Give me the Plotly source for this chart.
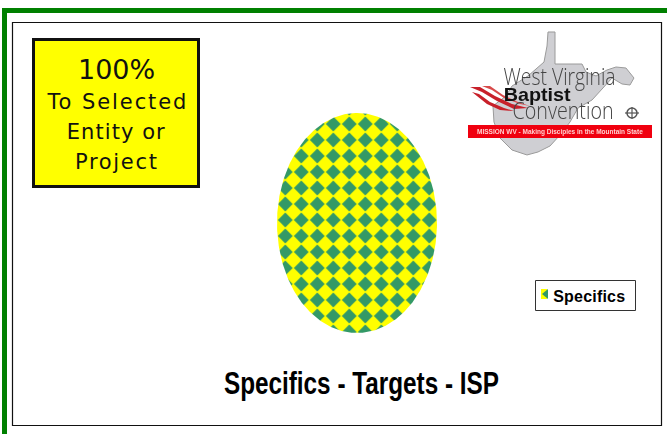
import json
import numpy as np
import plotly.graph_objects as go

W, H = 667, 434

# Chart content
categories = ["Specifics"]
values = [100]
title_text = "Specifics - Targets - ISP"
callout_lines = ["100%", "To Selected", "Entity or", "Project"]
callout_sizes = [27, 21, 21, 21]
callout_rows = [69, 102, 132, 162]
callout_widths = [77, 139, 98, 82]

# Logo content
logo_lines = ["West Virginia", "Baptist", "Convention"]
logo_tagline = "MISSION WV - Making Disciples in the Mountain State"

GREEN = "#008000"
YELLOW = "#FFFF00"
TEAL = "#339966"


def px(x):
    return x / W


def py(y):
    return 1 - y / H


def poly(points):
    return "M" + " L".join(f"{px(x):.4f},{py(y):.4f}" for x, y in points) + " Z"


def rect(x0, y0, x1, y1, **kw):
    return dict(type="rect", xref="paper", yref="paper", x0=px(x0), x1=px(x1),
                y0=py(y1), y1=py(y0), **kw)


# The single slice sweeps its share of the full turn; the axes stretch it to an oval.
total = sum(values)
theta = np.linspace(0, 2 * np.pi * values[0] / total, 361)

fig = go.Figure()
fig.add_trace(go.Scatter(
    x=np.sin(theta), y=np.cos(theta), mode="lines", name=categories[0],
    fill="toself", fillcolor=YELLOW, line=dict(width=0, color=YELLOW),
    fillpattern=dict(shape="x", size=16, solidity=0.6, fgcolor=YELLOW,
                     bgcolor=TEAL, fillmode="replace"),
    hoverinfo="skip", showlegend=False,
))

state_outline = [
    (548, 32), (555, 32), (555, 64), (582, 64), (586, 72), (596, 76), (607, 70),
    (616, 67), (626, 68), (634, 78), (630, 85), (622, 84), (612, 78), (603, 88),
    (592, 100), (578, 108), (570, 122), (560, 135), (550, 146), (538, 152),
    (527, 155), (512, 150), (500, 138), (494, 122), (493, 106), (506, 96),
    (512, 86), (528, 76), (544, 62), (547, 46),
]
streak_a = [(470, 87), (480, 87), (495, 96), (512, 104), (528, 108), (514, 109), (497, 101), (482, 92)]
streak_b = [(482, 86), (490, 86), (503, 95), (518, 102), (530, 106), (520, 104), (504, 98), (492, 90)]
streak_c = [(472, 92), (479, 94), (490, 102), (504, 108), (514, 111), (500, 110), (487, 104)]

shapes = [
    # Outer green rule along the top and left edges
    rect(2, 8, W, 13, fillcolor=GREEN, line_width=0),
    rect(2, 8, 7, H, fillcolor=GREEN, line_width=0),
    # Chart frame
    rect(12.5, 22.5, 661.5, 425.5, fillcolor="rgba(0,0,0,0)",
         line=dict(color="#111111", width=1.2)),
    # Callout box
    rect(33.5, 39.5, 198.5, 186.5, fillcolor=YELLOW, line=dict(color="#111111", width=3)),
    # Logo artwork
    dict(type="path", xref="paper", yref="paper", path=poly(state_outline),
         fillcolor="#cfcfd3", line=dict(color="#9a9a9a", width=1), layer="below"),
    dict(type="path", xref="paper", yref="paper", path=poly(streak_a),
         fillcolor="#c8202a", line_width=0),
    dict(type="path", xref="paper", yref="paper", path=poly(streak_b),
         fillcolor="#d84a4a", line_width=0),
    dict(type="path", xref="paper", yref="paper", path=poly(streak_c),
         fillcolor="#c8202a", line_width=0),
    rect(468, 125, 652, 138, fillcolor="#f0000f", line_width=0),
    dict(type="circle", xref="paper", yref="paper", x0=px(627), x1=px(637),
         y0=py(118), y1=py(108), fillcolor="rgba(0,0,0,0)", line=dict(color="#555555", width=1.5)),
    dict(type="line", xref="paper", yref="paper", x0=px(625), x1=px(639),
         y0=py(113), y1=py(113), line=dict(color="#555555", width=1.2)),
    dict(type="line", xref="paper", yref="paper", x0=px(632), x1=px(632),
         y0=py(107), y1=py(119), line=dict(color="#555555", width=1.2)),
    # Key box and its swatch
    rect(535.5, 280.5, 635.5, 310.5, fillcolor="white", line=dict(color="#333333", width=1)),
    rect(541, 289, 547, 299, fillcolor=YELLOW, line_width=0),
    dict(type="path", xref="paper", yref="paper",
         path=poly([(548, 289), (548, 299), (542, 294)]), fillcolor=TEAL, line_width=0),
]


def label(x, y, text, size, family, color="#000000", weight="normal", xanchor="center"):
    return dict(xref="paper", yref="paper", x=px(x), y=py(y), text=text, showarrow=False,
                xanchor=xanchor, yanchor="middle",
                font=dict(size=size, family=family, color=color, weight=weight))


annotations = [
    label(116, row, line, size, "DejaVu Sans", "#111111")
    for line, size, row in zip(callout_lines, callout_sizes, callout_rows)
]
annotations += [
    label(361.5, 383, title_text, 31, "Liberation Sans", weight="bold"),
    label(589, 296.5, categories[0], 16, "Liberation Sans", weight="bold"),
    label(559, 76, logo_lines[0], 23, "Open Sans", "#444444", weight=300),
    label(537, 94, logo_lines[1], 19, "Liberation Sans", "#111111", weight="bold"),
    label(562.5, 110, logo_lines[2], 23, "Open Sans", "#444444", weight=300),
    label(560, 132, logo_tagline, 6.5, "Liberation Sans", "#ffd0d0", weight="bold"),
]

# Fixed text widths: [annotation index, width in px, how the width is reached]
text_fits = [[i, w, "spacing"] for i, w in enumerate(callout_widths)] + [
    [4, 275, "spacingAndGlyphs"],
    [5, 72, "spacing"],
    [6, 112, "spacingAndGlyphs"],
    [7, 67, "spacingAndGlyphs"],
    [8, 101, "spacingAndGlyphs"],
]
soft_text = [6, 7, 8, 9]
soft_shapes = [4, 5, 6, 7, 8, 9, 10, 11]

post_script = """
var root = document.getElementById('{plot_id}');
%s.forEach(function (f) {
  var t = root.querySelector('.annotation[data-index="' + f[0] + '"] text');
  if (t) { t.setAttribute('textLength', f[1]); t.setAttribute('lengthAdjust', f[2]); }
});
%s.forEach(function (i) {
  var t = root.querySelector('.annotation[data-index="' + i + '"] text');
  if (t) { t.style.filter = 'blur(0.45px)'; }
});
%s.forEach(function (i) {
  root.querySelectorAll('.shapelayer path[data-index="' + i + '"]').forEach(function (p) {
    p.style.filter = 'blur(0.6px)';
  });
});

// Diamond checker tile for the slice fill
var NS = 'http://www.w3.org/2000/svg';
root.querySelectorAll('pattern').forEach(function (pat) {
  while (pat.firstChild) { pat.removeChild(pat.firstChild); }
  pat.setAttribute('width', 16);
  pat.setAttribute('height', 16);
  pat.setAttribute('patternUnits', 'userSpaceOnUse');
  pat.setAttribute('patternTransform', 'translate(0.3,3)');
  var bg = document.createElementNS(NS, 'rect');
  bg.setAttribute('width', 16);
  bg.setAttribute('height', 16);
  bg.setAttribute('fill', '%s');
  pat.appendChild(bg);
  var d = document.createElementNS(NS, 'path');
  var r = 7.4;
  d.setAttribute('d', 'M' + (8 - r) + ',8L8,' + (8 - r) + 'L' + (8 + r) + ',8L8,' + (8 + r) + 'Z');
  d.setAttribute('fill', '%s');
  pat.appendChild(d);
});
""" % (json.dumps(text_fits), json.dumps(soft_text), json.dumps(soft_shapes), YELLOW, TEAL)

fig.update_layout(
    width=W, height=H, margin=dict(l=0, r=0, t=0, b=0),
    paper_bgcolor="white", plot_bgcolor="rgba(0,0,0,0)", showlegend=False,
    xaxis=dict(visible=False, domain=[px(277), px(437)], range=[-1, 1], fixedrange=True),
    yaxis=dict(visible=False, domain=[py(333), py(113)], range=[-1, 1], fixedrange=True),
    shapes=shapes, annotations=annotations,
)
fig.write_html("out.html", config=dict(displayModeBar=False), post_script=post_script)
